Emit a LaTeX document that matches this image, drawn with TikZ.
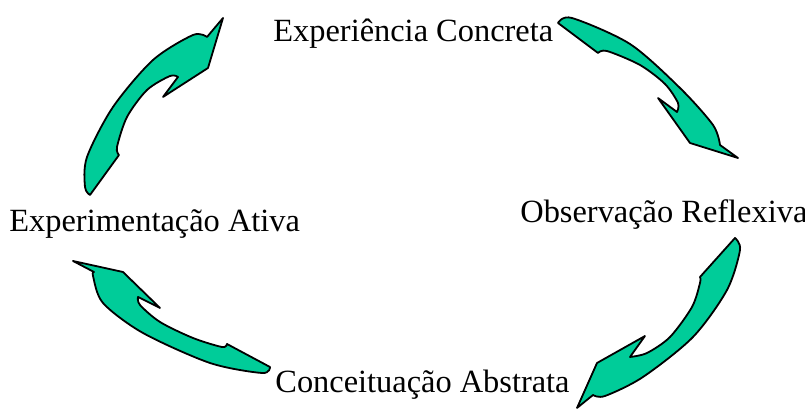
\documentclass[tikz,border=0pt]{standalone}
\usepackage{fontspec}
\setmainfont{Liberation Serif}
\usepackage{xcolor}
\usepackage{tikz}
\usetikzlibrary{calc}
\definecolor{verdeseta}{RGB}{0,204,153}

\begin{document}
\begin{tikzpicture}[x=0.5pt,y=-0.5pt,line join=round]
 \tikzstyle{seta}=[draw=black, fill=verdeseta, line width=0.9pt]
 \tikzstyle{rotulo}=[anchor=base west, inner sep=0pt, font=\fontsize{16.2}{19}\selectfont]
 \useasboundingbox (0,0) rectangle (805,410);
 % rotulos
 \node[rotulo] (EC) at (273,42)  {Experiência Concreta};
 \node[rotulo] (OR) at (520,223) {Observação Reflexiva};
 \node[rotulo] (EA) at (9,232)   {Experimentação Ativa};
 \node[rotulo] (CA) at (275,393) {Conceituação Abstrata};
 % seta EC -> OR
 \filldraw[seta] plot[smooth] coordinates {(558,23) (572,18) (630,44) (680,88) (713,125) (720,145)}
   -- (738,158) -- (690,143) -- (658,98) -- (677,112)
   -- plot[smooth] coordinates {(677,112) (678,103) (665,84) (640,65) (607,51) (598,53)} -- cycle;
 % seta OR -> CA
 \filldraw[seta] plot[smooth] coordinates {(735,238) (740,250) (727,290) (693,337) (643,377) (605,396) (593,395)}
   -- (577,408) -- (597,363) -- (645,336) -- (630,357)
   -- plot[smooth] coordinates {(630,357) (647,353) (670,337) (692,307) (700,283) (700,277)} -- cycle;
 % seta CA -> EA
 \filldraw[seta] plot[smooth] coordinates {(270,367) (262,373) (210,363) (143,333) (103,303) (93,276) (94,272)}
   -- (73,261) -- (123,272) -- (160,308) -- (138,297)
   -- plot[smooth] coordinates {(138,297) (140,305) (160,322) (193,338) (222,347) (227,344)} -- cycle;
 % seta EA -> EC
 \filldraw[seta] plot[smooth] coordinates {(90,195) (85,187) (87,157) (113,107) (153,60) (193,35) (207,37)}
   -- (223,18) -- (208,68) -- (163,97) -- (178,77)
   -- plot[smooth] coordinates {(178,77) (170,76) (147,90) (127,117) (117,147) (119,155)} -- cycle;
\end{tikzpicture}
\end{document}
